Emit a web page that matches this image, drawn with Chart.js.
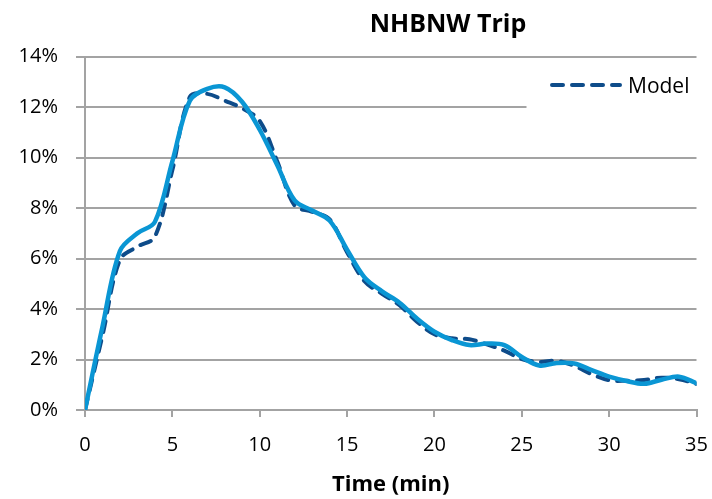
<!DOCTYPE html>
<html>
<head>
<meta charset="utf-8">
<script src="https://cdn.jsdelivr.net/npm/chart.js@4.4.1/dist/chart.umd.min.js"></script>
<style>
html,body{margin:0;padding:0;background:#fff;}
canvas{display:block;}
</style>
</head>
<body>
<canvas id="c" width="712" height="499"></canvas>
<script>
// ---- data ----
const chartTitle = 'NHBNW Trip';
const xAxisTitle = 'Time (min)';
const modelLabel = 'Model';
const observedLabel = 'Observed';
const timeMin = [0,1,2,3,4,5,6,7,8,9,10,11,12,13,14,15,16,17,18,19,20,21,22,23,24,25,26,27,28,29,30,31,32,33,34,35];
// observed share of trips (%), solid light-blue line
const observed = [0,3.3,6.3,7.0,7.45,9.85,12.25,12.72,12.78,12.2,11.1,9.7,8.3,7.9,7.5,6.35,5.25,4.7,4.25,3.62,3.1,2.77,2.57,2.63,2.57,2.1,1.76,1.86,1.84,1.58,1.32,1.15,1.04,1.2,1.32,1.06];
// model share of trips (%), dashed dark-blue line
const model = [0,2.95,5.95,6.47,6.86,9.5,12.4,12.52,12.25,11.95,11.45,9.85,8.1,7.85,7.55,6.25,5.1,4.6,4.15,3.5,3.0,2.84,2.8,2.6,2.35,2.02,1.9,1.95,1.75,1.42,1.18,1.16,1.19,1.28,1.22,1.03];
const xMin = 0, xMax = 35, xStep = 5;
const yMin = 0, yMax = 14, yStep = 2;

// ---- styling ----
const FONT = "'Open Sans', 'Liberation Sans', sans-serif";
const GRID = '#a3a3a3';
const LIGHT = '#0A96D4';
const DARK = '#0E4C8A';

const toPoints = (xs, ys) => xs.map((x, i) => ({x, y: ys[i]}));

const overlay = {
  id: 'overlay',
  afterDatasetsDraw(chart) {
    const {ctx, chartArea: a} = chart;
    const ds = chart.data.datasets[1];
    ctx.save();
    // legend box (white background hides gridline behind it)
    ctx.fillStyle = '#fff';
    ctx.fillRect(a.right - 170, a.top + 5, 172, 53);
    const ly = a.top + 28.5;
    ctx.strokeStyle = ds.borderColor;
    ctx.lineWidth = ds.borderWidth;
    ctx.lineCap = 'round';
    ctx.setLineDash(ds.borderDash);
    ctx.beginPath();
    ctx.moveTo(a.right - 144.5, ly);
    ctx.lineTo(a.right - 76.5, ly);
    ctx.stroke();
    ctx.setLineDash([]);
    ctx.fillStyle = '#000';
    ctx.font = "21px " + FONT;
    ctx.textAlign = 'left';
    ctx.textBaseline = 'alphabetic';
    ctx.fillText(ds.label, a.right - 68.5, a.top + 36.5);
    // chart title
    ctx.font = "bold 25px " + FONT;
    ctx.textAlign = 'center';
    ctx.fillText(chartTitle, 448, 32);
    ctx.restore();
  }
};

new Chart(document.getElementById('c'), {
  type: 'line',
  data: {
    datasets: [
      {
        label: observedLabel,
        data: toPoints(timeMin, observed),
        borderColor: LIGHT,
        borderWidth: 4.5,
        pointRadius: 0,
        tension: 0.35,
        fill: false,
        borderJoinStyle: 'round',
        borderCapStyle: 'round'
      },
      {
        label: modelLabel,
        data: toPoints(timeMin, model),
        borderColor: DARK,
        borderWidth: 4,
        borderDash: [11, 9],
        borderCapStyle: 'round',
        borderJoinStyle: 'round',
        pointRadius: 0,
        tension: 0.35,
        fill: false
      }
    ]
  },
  options: {
    responsive: false,
    animation: false,
    devicePixelRatio: 1,
    layout: { padding: { top: 56.5, right: 15.5, bottom: 0, left: 0 } },
    plugins: {
      legend: { display: false },
      title: { display: false },
      tooltip: { enabled: false }
    },
    scales: {
      x: {
        type: 'linear',
        min: xMin, max: xMax,
        afterFit(scale) { scale.height = 89; scale.paddingRight = 0; scale.paddingLeft = 0; },
        ticks: {
          stepSize: xStep,
          color: '#000',
          padding: 16,
          maxRotation: 0,
          font: { family: FONT, size: 20 }
        },
        grid: { display: true, drawOnChartArea: false, drawTicks: true, tickLength: 7, color: GRID, lineWidth: 2 },
        border: { display: true, color: GRID, width: 2 },
        title: {
          display: true,
          text: xAxisTitle,
          color: '#000',
          padding: { top: 0, bottom: 1.3 },
          font: { family: FONT, size: 22, weight: 'bold' }
        }
      },
      y: {
        min: yMin, max: yMax,
        afterFit(scale) { scale.width = 85; scale.paddingTop = 0; scale.paddingBottom = 0; },
        ticks: {
          stepSize: yStep,
          color: '#000',
          padding: 18,
          font: { family: FONT, size: 20 },
          callback: (v) => v + '%'
        },
        grid: { color: GRID, lineWidth: 2, tickLength: 9, drawTicks: true },
        border: { display: true, color: GRID, width: 2 }
      }
    }
  },
  plugins: [overlay]
});
</script>
</body>
</html>
